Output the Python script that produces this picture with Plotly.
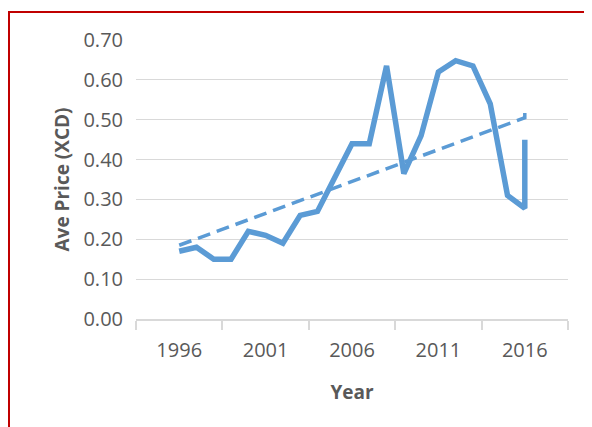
import plotly.graph_objects as go

years = [1996, 1997, 1998, 1999, 2000, 2001, 2002, 2003, 2004, 2005, 2006,
         2007, 2008, 2009, 2010, 2011, 2012, 2013, 2014, 2015, 2016, 2016]
prices = [0.17, 0.18, 0.15, 0.15, 0.22, 0.21, 0.19, 0.26, 0.27, 0.355, 0.44,
          0.44, 0.635, 0.365, 0.46, 0.62, 0.648, 0.635, 0.54, 0.31, 0.278, 0.45]

trend_years = [1996, 2016, 2016]
trend_values = [0.185, 0.505, 0.533]

label_years = [1996, 2001, 2006, 2011, 2016]
tick_marks = [1993.5, 1998.5, 2003.5, 2008.5, 2013.5, 2018.5]
y_ticks = [0.0, 0.1, 0.2, 0.3, 0.4, 0.5, 0.6, 0.7]

blue = "#5b9bd5"
grey_txt = "#595959"
font_family = "Open Sans, Noto Sans, sans-serif"

# page body has an 8px margin; figure is sized to fit the window
W, H = 584, 419
L, R, T, B = 128, 24, 32, 108
pw, ph = W - L - R, H - T - B

fig = go.Figure()
fig.add_trace(go.Scatter(x=years, y=prices, mode="lines",
                         line=dict(color=blue, width=5.5), showlegend=False))
fig.add_trace(go.Scatter(x=trend_years, y=trend_values, mode="lines",
                         line=dict(color=blue, width=3.5, dash="13px,7px"),
                         showlegend=False))

fig.update_layout(
    width=W, height=H,
    margin=dict(l=L, r=R, t=T, b=B),
    paper_bgcolor="white", plot_bgcolor="white",
    font=dict(family=font_family, color=grey_txt, size=20),
    xaxis=dict(
        range=[1993.5, 2018.5], tickvals=label_years,
        ticktext=[str(v) for v in label_years], ticks="",
        showgrid=False, zeroline=False,
        showline=True, linecolor="#d9d9d9", linewidth=1.5,
        tickfont=dict(size=20, color=grey_txt),
        ticklabelstandoff=12,
        minor=dict(tickvals=tick_marks, ticks="outside", ticklen=9,
                   tickcolor="#d9d9d9", tickwidth=1.5, showgrid=False),
        title=dict(text="<b>Year</b>", font=dict(size=19, color=grey_txt),
                   standoff=24),
    ),
    yaxis=dict(
        range=[0, 0.7], tickvals=y_ticks,
        ticktext=["%.2f" % v for v in y_ticks],
        showgrid=True, gridcolor="#d9d9d9", gridwidth=1.2,
        zeroline=False, showline=False,
        tickfont=dict(size=20, color=grey_txt),
        ticklabelstandoff=12,
        title=dict(text="<b>Ave Price (XCD)</b>",
                   font=dict(size=19, color=grey_txt), standoff=8),
    ),
    shapes=[dict(type="rect", xref="paper", yref="paper",
                 x0=(1 - L) / pw, x1=(W + 20 - L) / pw,
                 y0=(ph + T - (H + 20)) / ph, y1=(ph + T - 4) / ph,
                 line=dict(color="#c00000", width=2), layer="below")],
)

fig.write_html("out.html")
